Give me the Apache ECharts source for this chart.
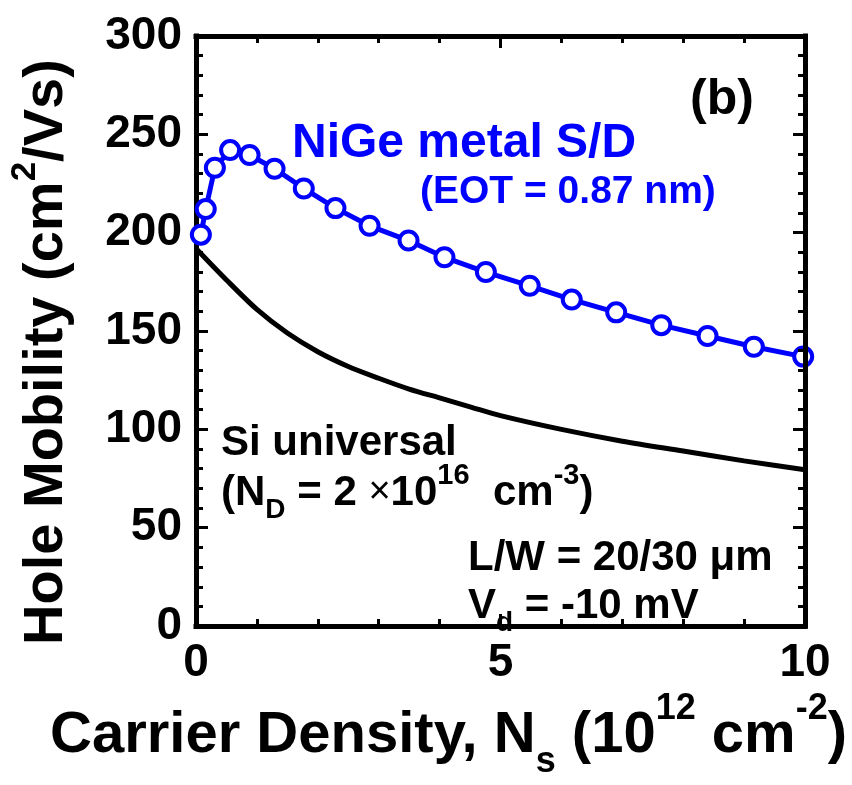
<!DOCTYPE html>
<html>
<head>
<meta charset="utf-8">
<script src="https://cdn.jsdelivr.net/npm/echarts@6/dist/echarts.min.js"></script>
<style>
  html, body { margin: 0; padding: 0; background: #ffffff; }
  #chart { width: 852px; height: 785px; }
</style>
</head>
<body>
<div id="chart"></div>
<script>
// Si universal hole mobility curve (N_D = 2e16 cm^-3)
const siDensity  = [0, 0.5, 1, 1.5, 2, 2.5, 3, 3.5, 4, 4.5, 5, 6, 7, 8, 9, 10];
const siMobility = [192, 176, 161, 149, 139.5, 132, 126, 120.5, 116, 111.5, 107, 100, 94, 89, 84, 79.5];

// NiGe metal S/D pMOSFET, measured hole mobility
const nigeDensity  = [0.08, 0.16, 0.31, 0.56, 0.88, 1.29, 1.77, 2.29, 2.85, 3.49, 4.08, 4.76, 5.48, 6.17, 6.90, 7.64, 8.40, 9.16, 9.97];
const nigeMobility = [199, 212, 233, 242, 239.5, 232.5, 222.5, 212.5, 203.5, 196, 187.5, 180, 173, 166, 159.5, 153, 147.5, 142, 137];

// Axis ranges and tick steps
const xRange = [0, 10], xStep = 5;
const yRange = [0, 300], yStep = 50;

const FONT = '"Liberation Sans", Arial, Helvetica, sans-serif';
const BLUE = '#0000ff';

const pair = (xs, ys) => xs.map((x, i) => [x, ys[i]]);

const lineStyle = { color: '#000', width: 5, cap: 'square' };
const tickStyle = { color: '#000', width: 3 };

function frameAxis(extra) {
  return Object.assign({
    type: 'value',
    axisLine: { show: true, onZero: false, lineStyle: lineStyle },
    axisTick: { show: true, inside: true, length: 12, lineStyle: tickStyle },
    minorTick: { show: true, splitNumber: 5, length: 7, lineStyle: tickStyle },
    splitLine: { show: false },
    minorSplitLine: { show: false }
  }, extra);
}

const tickLabel = { fontSize: 46, fontWeight: 'bold', color: '#000', fontFamily: FONT };

const chart = echarts.init(document.getElementById('chart'), null, { renderer: 'canvas' });

// rich text styles for the in-plot annotations (graphic elements use fill)
function annoRich(size, color) {
  return {
    t:   { fontSize: size, fontWeight: 'bold', fontFamily: FONT, fill: color, lineHeight: Math.round(size * 1.5) },
    sup: { fontSize: Math.round(size * 0.7), fontWeight: 'bold', fontFamily: FONT, fill: color, lineHeight: Math.round(size * 0.85), verticalAlign: 'top' },
    sub: { fontSize: Math.round(size * 0.66), fontWeight: 'bold', fontFamily: FONT, fill: color, lineHeight: Math.round(size * 0.62), verticalAlign: 'bottom' },
    x:   { fontSize: Math.round(size * 0.9), fontWeight: 'normal', fontFamily: FONT, fill: color, lineHeight: Math.round(size * 1.5) }
  };
}

function anno(x, y, text, size, color) {
  return {
    type: 'text', x: x, y: y, z: 100,
    style: {
      text: text, rich: annoRich(size, color), fill: color,
      font: 'bold ' + size + 'px ' + FONT,
      align: 'left', verticalAlign: 'middle'
    }
  };
}

chart.setOption({
  backgroundColor: '#ffffff',
  animation: false,
  grid: { left: 194, top: 36, width: 611, height: 611, containLabel: false },
  xAxis: [
    frameAxis({
      min: xRange[0], max: xRange[1], interval: xStep, position: 'bottom',
      axisLabel: Object.assign({ margin: 14 }, tickLabel),
      name: '{t|Carrier Density, N}{sub|s}{t| (10}{sup|12}{t| cm}{sup|-2}{t|)}',
      nameLocation: 'middle', nameGap: 22,
      nameTextStyle: {
        padding: [0, 104, 0, 0],
        rich: {
          t:   { fontSize: 58, fontWeight: 'bold', fontFamily: FONT, color: '#000', lineHeight: 89 },
          sup: { fontSize: 36, fontWeight: 'bold', fontFamily: FONT, color: '#000', lineHeight: 46, verticalAlign: 'top' },
          sub: { fontSize: 36, fontWeight: 'bold', fontFamily: FONT, color: '#000', lineHeight: 31, verticalAlign: 'bottom' }
        }
      }
    }),
    frameAxis({
      min: xRange[0], max: xRange[1], interval: xStep, position: 'top',
      axisLabel: { show: false }
    })
  ],
  yAxis: [
    frameAxis({
      min: yRange[0], max: yRange[1], interval: yStep, position: 'left',
      axisLabel: Object.assign({ margin: 14 }, tickLabel),
      name: '{t|Hole Mobility (cm}{sup|2}{t|/Vs)}',
      nameLocation: 'middle', nameRotate: 90, nameGap: 110,
      nameTextStyle: {
        padding: [0, 42, 0, 0],
        rich: {
          t:   { fontSize: 56, fontWeight: 'bold', fontFamily: FONT, color: '#000', lineHeight: 78 },
          sup: { fontSize: 35, fontWeight: 'bold', fontFamily: FONT, color: '#000', lineHeight: 40, verticalAlign: 'top' }
        }
      }
    }),
    frameAxis({
      min: yRange[0], max: yRange[1], interval: yStep, position: 'right', z: 5,
      axisLabel: { show: false }
    })
  ],
  series: [
    {
      name: 'Si universal',
      type: 'line',
      data: pair(siDensity, siMobility),
      smooth: 0.3,
      showSymbol: false,
      symbol: 'none',
      lineStyle: { color: '#000', width: 5 },
      z: 2
    },
    {
      name: 'NiGe metal S/D',
      type: 'line',
      data: pair(nigeDensity, nigeMobility),
      symbol: 'circle',
      symbolSize: 18,
      itemStyle: { color: '#ffffff', borderColor: BLUE, borderWidth: 4 },
      lineStyle: { color: BLUE, width: 5 },
      z: 3
    }
  ],
  graphic: [
    anno(690, 100, '{t|(b)}', 50, '#000'),
    anno(292, 144, '{t|NiGe metal S/D}', 48, BLUE),
    anno(420, 192, '{t|(EOT = 0.87 nm)}', 39, BLUE),
    anno(221, 443, '{t|Si universal}', 42, '#000'),
    anno(221, 493, '{t|(N}{sub|D}{t| = 2 }{x|×}{t|10}{sup|16}{t|  cm}{sup|-3}{t|)}', 42, '#000'),
    anno(468, 558, '{t|L/W = 20/30 μm}', 42, '#000'),
    anno(468, 606, '{t|V}{sub|d}{t| = -10 mV}', 42, '#000')
  ]
});
</script>
</body>
</html>
